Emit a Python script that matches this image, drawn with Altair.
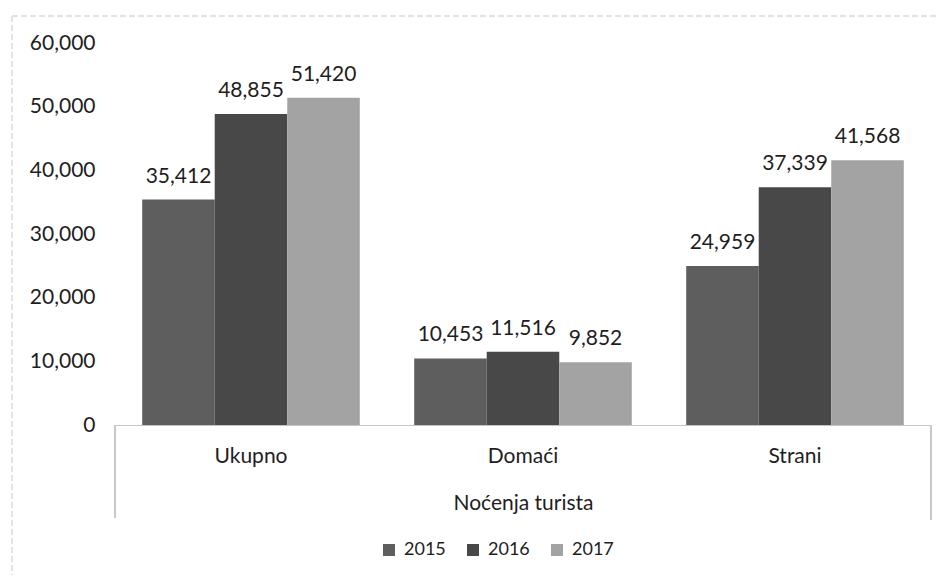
import altair as alt
import pandas as pd

categories = ["Ukupno", "Domaći", "Strani"]
years = ["2015", "2016", "2017"]
v2015 = [35412, 10453, 24959]
v2016 = [48855, 11516, 37339]
v2017 = [51420, 9852, 41568]

rows = []
for i, c in enumerate(categories):
    for y, vals in zip(years, [v2015, v2016, v2017]):
        rows.append({"kat": c, "godina": y, "vrijednost": vals[i]})
df = pd.DataFrame(rows)

FONT = "Lato"
TXT = "#1e1e1e"
colors = ["#5e5e5e", "#484848", "#a3a3a3"]

base = alt.Chart(df).encode(
    x=alt.X("kat:N", sort=categories,
            scale=alt.Scale(paddingInner=0.2, paddingOuter=0.1),
            axis=alt.Axis(title="Noćenja turista", labelAngle=0, ticks=False,
                          domainColor="#c2c5cc", labelFontSize=21, labelColor=TXT,
                          labelPadding=20, titleFontSize=21, titleFontWeight="normal",
                          titleColor=TXT, titlePadding=26, labelFont=FONT, titleFont=FONT)),
    xOffset=alt.XOffset("godina:N", sort=years, scale=alt.Scale(paddingInner=0, paddingOuter=0)),
    y=alt.Y("vrijednost:Q", scale=alt.Scale(domain=[0, 60000]),
            axis=alt.Axis(title=None, values=[0, 10000, 20000, 30000, 40000, 50000, 60000],
                          format=",.0f", grid=False, domain=False, ticks=False,
                          labelFontSize=21, labelColor=TXT, labelPadding=20, labelFont=FONT)),
)

bars = base.mark_bar().encode(
    color=alt.Color("godina:N", sort=years,
                    scale=alt.Scale(domain=years, range=colors),
                    legend=alt.Legend(title=None, orient="none", direction="horizontal",
                                      legendX=265, legendY=498, symbolType="square",
                                      symbolSize=144, labelFontSize=18, labelColor=TXT,
                                      labelFont=FONT, columnPadding=18, labelOffset=6,
                                      symbolStrokeWidth=0))
)

labels = base.mark_text(baseline="alphabetic", dy=-17, fontSize=21, color=TXT, font=FONT).encode(
    text=alt.Text("vrijednost:Q", format=",")
)

edge_left = alt.Chart(df).mark_rule(color="#c8c8c8", strokeWidth=1).encode(
    x=alt.value(0), y=alt.value(382), y2=alt.value(475)
)
edge_right = alt.Chart(df).mark_rule(color="#c8c8c8", strokeWidth=1).encode(
    x=alt.value(816), y=alt.value(382), y2=alt.value(477)
)
frame_top = alt.Chart(df).mark_rule(color="#e0e2e6", strokeWidth=1, strokeDash=[6, 3]).encode(
    x=alt.value(-103), x2=alt.value(832), y=alt.value(-27)
)
frame_left = alt.Chart(df).mark_rule(color="#e0e2e6", strokeWidth=1, strokeDash=[6, 3]).encode(
    x=alt.value(-103), y=alt.value(-27), y2=alt.value(540)
)

chart = alt.layer(bars, labels, edge_left, edge_right, frame_top, frame_left).properties(
    width=816, height=382,
    autosize=alt.AutoSizeParams(type="none"),
    padding={"left": 107, "top": 35, "right": 8, "bottom": 150},
).configure_view(stroke=None)

chart.save("out.html", embed_options={"renderer": "svg", "actions": False})
